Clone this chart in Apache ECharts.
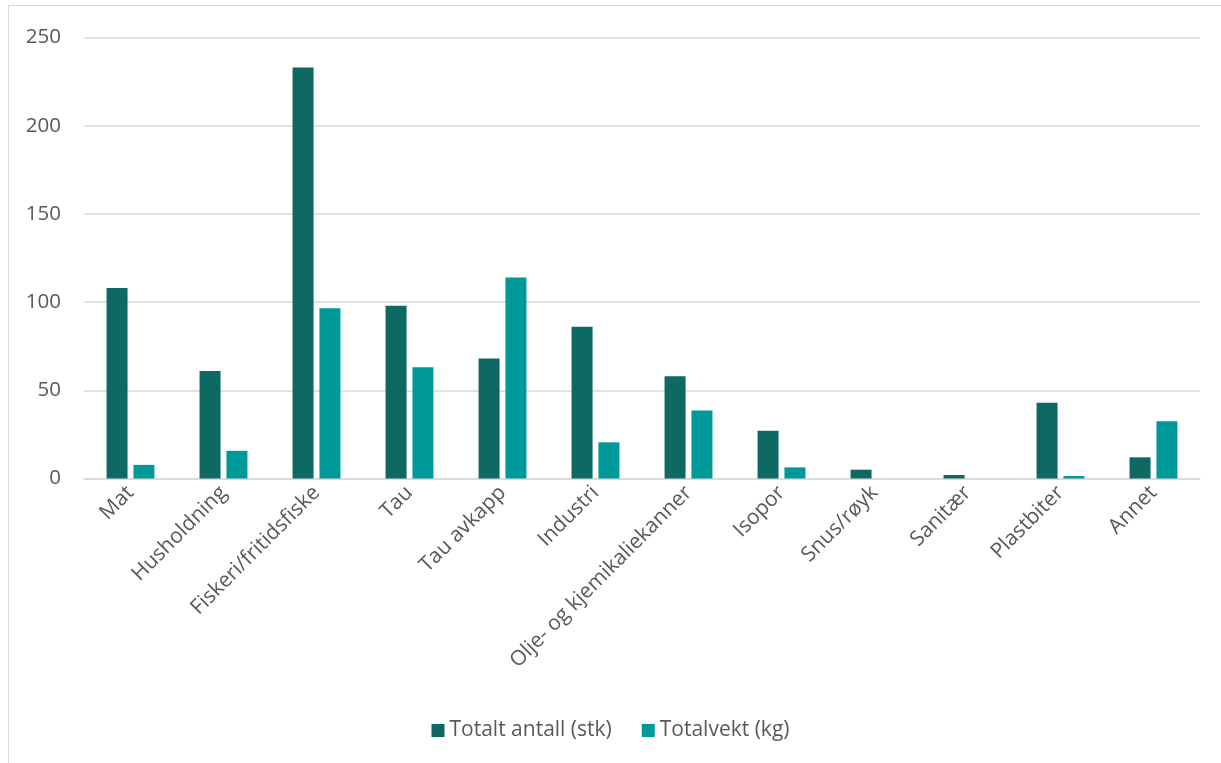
<!DOCTYPE html>
<html>
<head>
<meta charset="utf-8">
<script src="https://cdn.jsdelivr.net/npm/echarts@6/dist/echarts.min.js"></script>
<style>
    html, body { margin: 0; padding: 0; background: #fff; }
    #chart { width: 1221px; height: 763px; }
</style>
</head>
<body>
<div id="chart"></div>
<script>
// kategorier langs x-aksen
var categories = ['Mat', 'Husholdning', 'Fiskeri/fritidsfiske', 'Tau', 'Tau avkapp', 'Industri',
    'Olje- og kjemikaliekanner', 'Isopor', 'Snus/røyk', 'Sanitær', 'Plastbiter', 'Annet'];

// Totalt antall (stk)
var antall = [108, 61, 233, 98, 68, 86, 58, 27, 5, 2, 43, 12];

// Totalvekt (kg)
var vekt = [7.7, 15.7, 96.5, 63, 114, 20.5, 38.6, 6.3, 0, 0, 1.4, 32.4];

var yTicks = [0, 50, 100, 150, 200, 250];

var textColor = '#595959';
var fontFamily = '"Open Sans", "Noto Sans", sans-serif';

var option = {
    animation: false,
    backgroundColor: '#fff',
    textStyle: { fontFamily: fontFamily },
    graphic: [{
        type: 'rect',
        shape: { x: 8.5, y: 5.5, width: 1300, height: 900 },
        style: { fill: 'none', stroke: '#d9d9d9', lineWidth: 1 },
        silent: true
    }],
    grid: {
        left: 84,
        right: 21,
        top: 37.5,
        bottom: 284.5,
        containLabel: false
    },
    legend: {
        bottom: 17,
        left: 'center',
        itemWidth: 13,
        itemHeight: 13,
        itemGap: 30,
        icon: 'rect',
        textStyle: { color: textColor, fontSize: 21, fontFamily: fontFamily },
        data: ['Totalt antall (stk)', 'Totalvekt (kg)']
    },
    xAxis: {
        type: 'category',
        data: categories,
        axisLine: { show: true, lineStyle: { color: '#d9d9d9', width: 1.5 } },
        axisTick: { show: false },
        axisLabel: {
            rotate: 45,
            interval: 0,
            margin: 11,
            color: textColor,
            fontSize: 21,
            fontFamily: fontFamily
        }
    },
    yAxis: {
        type: 'value',
        min: yTicks[0],
        max: yTicks[yTicks.length - 1],
        interval: 50,
        axisLine: { show: false },
        axisTick: { show: false },
        axisLabel: { color: textColor, fontSize: 20.5, margin: 23, fontFamily: fontFamily },
        splitLine: { lineStyle: { color: '#d9d9d9', width: 1.5 } }
    },
    series: [{
        name: 'Totalt antall (stk)',
        type: 'bar',
        data: antall,
        barWidth: 21,
        barGap: '28%',
        itemStyle: { color: '#0d6962' }
    }, {
        name: 'Totalvekt (kg)',
        type: 'bar',
        data: vekt,
        barWidth: 21,
        barGap: '28%',
        itemStyle: { color: '#009999' }
    }]
};

var chart = echarts.init(document.getElementById('chart'));
chart.setOption(option);
</script>
</body>
</html>
